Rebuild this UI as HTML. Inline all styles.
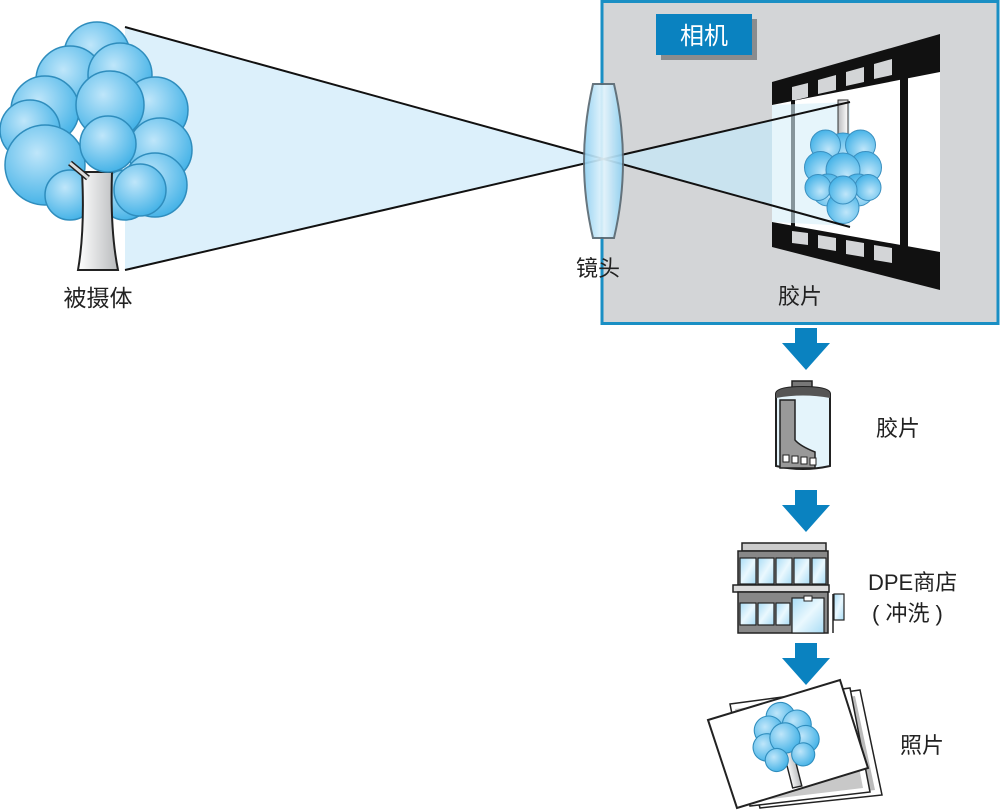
<!DOCTYPE html>
<html><head><meta charset="utf-8"><style>
html,body{margin:0;padding:0;background:#fff}
svg{display:block}
text{font-family:"Liberation Sans","Noto Sans CJK SC",sans-serif;fill:#222}
</style></head><body>
<svg width="1000" height="810" viewBox="0 0 1000 810" xmlns="http://www.w3.org/2000/svg">
<defs>
<radialGradient id="leaf" cx="0.4" cy="0.35" r="0.7">
<stop offset="0" stop-color="#bfe6fa"/><stop offset="1" stop-color="#3fb0e6"/></radialGradient>
<linearGradient id="trunk" x1="0" x2="1"><stop offset="0" stop-color="#fff"/><stop offset="1" stop-color="#b8babc"/></linearGradient>
<linearGradient id="lens" x1="0" x2="1"><stop offset="0" stop-color="#8fd0f2"/><stop offset="0.5" stop-color="#e6f6fd"/><stop offset="1" stop-color="#8fd0f2"/></linearGradient>
<linearGradient id="glass" x1="0" y1="0" x2="1" y2="1"><stop offset="0" stop-color="#a9dcf5"/><stop offset="0.5" stop-color="#eaf8fe"/><stop offset="1" stop-color="#a9dcf5"/></linearGradient>
<g id="arrow"><path d="M-11,0 H11 V15 H24 L0,42 L-24,15 H-11 Z" fill="#0a82c0"/></g>
</defs>

<!-- camera box -->
<rect x="602" y="1.5" width="396" height="322" fill="#d3d5d7" stroke="#1a8fc4" stroke-width="3"/>
<rect x="661" y="19" width="96" height="41" fill="#8a8c8e"/>
<rect x="656" y="14" width="96" height="41" fill="#0a82c0"/>
<text x="704" y="44" font-size="24" text-anchor="middle" style="fill:#fff">相机</text>

<!-- light cones -->
<polygon points="125,27 602,159 125,270" fill="#dcf0fb"/>
<polygon points="602,159 850,226 850,102" fill="#c8e4f2" opacity="0.9"/>

<!-- film -->
<polygon points="772,82 940,34 940,290 772,247" fill="#111"/>
<polygon points="772,105 940,72 940,252 772,222" fill="#fff"/>
<g fill="#d3d5d7">
<polygon points="792,87 808,83 808,97 792,101"/>
<polygon points="818,80 836,75 836,90 818,94"/>
<polygon points="846,72 864,67 864,82 846,86"/>
<polygon points="874,64 892,59 892,75 874,79"/>
<polygon points="792,231 808,233 808,245 792,243"/>
<polygon points="818,235 836,238 836,251 818,248"/>
<polygon points="846,240 864,243 864,257 846,254"/>
<polygon points="874,245 892,248 892,263 874,260"/>
</g>
<rect x="791" y="100" width="4" height="127" fill="#111"/>
<rect x="900" y="75" width="8" height="172" fill="#111"/>
<polygon points="772,105 850,102 850,226 772,222" fill="#d6eef9" opacity="0.6"/>
<!-- inverted tree image -->
<g transform="translate(843,140) scale(0.5) rotate(180)">
<rect x="-10" y="0" width="20" height="80" fill="url(#trunk)" stroke="#333" stroke-width="2"/>
<g fill="url(#leaf)" stroke="#3a8fbf" stroke-width="2">
<circle cx="0" cy="-20" r="34"/><circle cx="-35" cy="-10" r="30"/><circle cx="35" cy="-10" r="30"/>
<circle cx="-45" cy="-55" r="32"/><circle cx="45" cy="-55" r="32"/><circle cx="0" cy="-60" r="34"/>
<circle cx="-30" cy="-100" r="32"/><circle cx="30" cy="-100" r="32"/><circle cx="0" cy="-135" r="32"/>
<circle cx="-50" cy="-95" r="26"/><circle cx="50" cy="-95" r="26"/><circle cx="0" cy="-100" r="28"/>
</g></g>

<!-- lines -->
<line x1="125" y1="27" x2="850" y2="227" stroke="#111" stroke-width="2"/>
<line x1="125" y1="270" x2="850" y2="102" stroke="#111" stroke-width="2"/>

<!-- lens -->
<path d="M593,84 H614 Q632,162 614,238 H593 Q575,162 593,84 Z" fill="url(#lens)" stroke="#5a6a74" stroke-width="2" opacity="0.92"/>

<!-- tree -->
<g fill="url(#leaf)" stroke="#2f8dbd" stroke-width="1.5">
<circle cx="97" cy="55" r="33"/>
<circle cx="70" cy="80" r="34"/><circle cx="120" cy="75" r="32"/>
<circle cx="45" cy="110" r="34"/><circle cx="155" cy="110" r="33"/>
<circle cx="110" cy="105" r="34"/>
<circle cx="30" cy="130" r="30"/><circle cx="160" cy="150" r="32"/>
<circle cx="155" cy="185" r="32"/>
<circle cx="45" cy="165" r="40"/>
<circle cx="70" cy="195" r="25"/><circle cx="125" cy="195" r="25"/>
</g>
<path d="M82,172 Q85,230 78,270 H118 Q110,230 112,172 Z" fill="url(#trunk)" stroke="#222" stroke-width="2"/>
<line x1="70" y1="163" x2="88" y2="178" stroke="#222" stroke-width="6"/>
<line x1="70" y1="163" x2="88" y2="178" stroke="#ddd" stroke-width="3"/>
<circle cx="140" cy="190" r="26" fill="url(#leaf)" stroke="#2f8dbd" stroke-width="1.5"/>
<circle cx="108" cy="144" r="28" fill="url(#leaf)" stroke="#2f8dbd" stroke-width="1.5"/>

<text x="98" y="306" font-size="23" text-anchor="middle">被摄体</text>
<text x="598" y="276" font-size="22" text-anchor="middle">镜头</text>
<text x="800" y="304" font-size="22" text-anchor="middle">胶片</text>

<!-- arrows -->
<use href="#arrow" x="806" y="328"/>
<use href="#arrow" x="806" y="490"/>
<use href="#arrow" x="806" y="643"/>

<!-- canister -->
<rect x="792" y="381" width="20" height="10" fill="#777" stroke="#222" stroke-width="1.5"/>
<path d="M776,394 Q776,387 803,387 Q830,387 830,394 V466 Q803,472 776,466 Z" fill="#e4f4fb" stroke="#222" stroke-width="2"/>
<path d="M776,394 Q776,387 803,387 Q830,387 830,394 V398 Q803,393 776,398 Z" fill="#555"/>
<path d="M780,400 H795 V440 Q800,446 815,452 V468 H780 Z" fill="#999" stroke="#222" stroke-width="1.5"/>
<g fill="#fff" stroke="#222" stroke-width="1"><rect x="783" y="455" width="6" height="7"/><rect x="792" y="456" width="6" height="7"/><rect x="801" y="457" width="6" height="7"/><rect x="810" y="458" width="6" height="7"/></g>
<text x="898" y="436" font-size="22" text-anchor="middle">胶片</text>

<!-- building -->
<rect x="742" y="543" width="84" height="8" fill="#ccc" stroke="#222" stroke-width="1.5"/>
<rect x="738" y="551" width="90" height="35" fill="#888" stroke="#222" stroke-width="1.5"/>
<g fill="url(#glass)" stroke="#222" stroke-width="1.2">
<rect x="740" y="558" width="16" height="26"/><rect x="758" y="558" width="16" height="26"/><rect x="776" y="558" width="16" height="26"/><rect x="794" y="558" width="16" height="26"/><rect x="812" y="558" width="14" height="26"/>
</g>
<rect x="733" y="585" width="96" height="7" fill="#ddd" stroke="#222" stroke-width="1.5"/>
<rect x="738" y="592" width="90" height="41" fill="#888" stroke="#222" stroke-width="1.5"/>
<g fill="url(#glass)" stroke="#222" stroke-width="1.2">
<rect x="740" y="603" width="16" height="22"/><rect x="758" y="603" width="16" height="22"/><rect x="776" y="603" width="14" height="22"/><rect x="792" y="598" width="32" height="35"/>
</g>
<rect x="804" y="596" width="8" height="5" fill="#fff" stroke="#222"/>
<rect x="834" y="594" width="10" height="26" fill="url(#glass)" stroke="#222" stroke-width="1.2"/>
<line x1="833" y1="594" x2="833" y2="633" stroke="#222" stroke-width="1.5"/>
<text x="868" y="590" font-size="22">DPE商店</text>
<text x="872" y="621" font-size="22">( 冲洗 )</text>

<!-- photos -->
<polygon points="733,708 860,690 882,795 760,808" fill="#fff" stroke="#222" stroke-width="1.5"/>
<polygon points="738,713 855,696 875,790 762,803" fill="#bbb"/>
<polygon points="730,704 850,688 870,792 750,806" fill="#fff" stroke="#222" stroke-width="1.5"/>
<polygon points="735,709 845,694 863,788 755,801" fill="#c8c8c8"/>
<polygon points="708,720 840,680 868,768 737,808" fill="#fff" stroke="#222" stroke-width="2"/>
<g transform="translate(785,738) scale(0.36) rotate(-12)">
<path d="M-12,40 L-8,140 H18 L14,40 Z" fill="url(#trunk)" stroke="#222" stroke-width="4"/>
<g fill="url(#leaf)" stroke="#2f8dbd" stroke-width="3">
<circle cx="0" cy="-60" r="40"/><circle cx="-40" cy="-30" r="40"/><circle cx="40" cy="-30" r="40"/>
<circle cx="-55" cy="15" r="38"/><circle cx="55" cy="15" r="38"/><circle cx="0" cy="0" r="42"/>
<circle cx="-35" cy="55" r="32"/><circle cx="40" cy="55" r="32"/>
</g></g>
<text x="922" y="753" font-size="22" text-anchor="middle">照片</text>
</svg>
</body></html>
